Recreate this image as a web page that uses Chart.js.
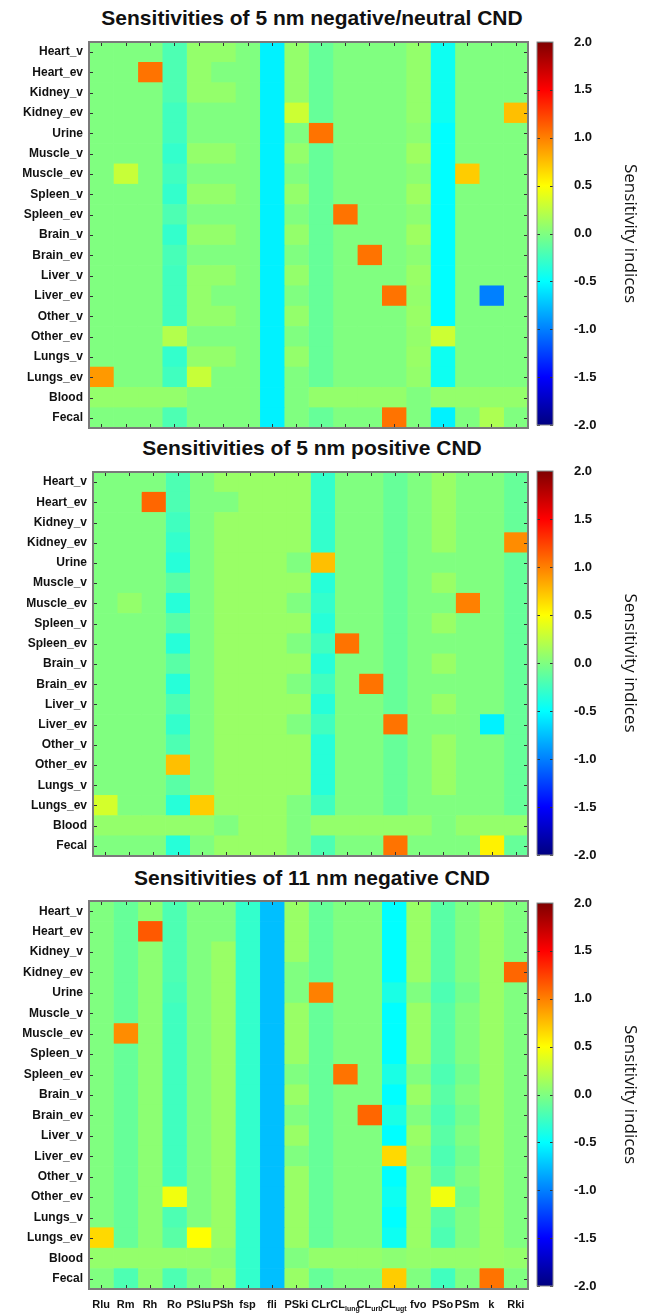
<!DOCTYPE html>
<html>
<head>
<meta charset="utf-8">
<script src="https://cdn.jsdelivr.net/npm/chart.js@4.4.0/dist/chart.umd.min.js"></script>
<style>
  body { margin: 0; background: #fff; }
  #page { position: relative; width: 646px; height: 1315px; overflow: hidden; }
  canvas { position: absolute; }
  .title { position: absolute; left: 0; width: 624px; text-align: center; line-height: 24px;
           font: bold 21px 'Liberation Sans', Arial, sans-serif; color: #111; }
</style>
</head>
<body>
<div id="page">
  <div class="title" style="top:6px">Sensitivities of 5 nm negative/neutral CND</div>
  <canvas id="heat1" width="530" height="400" style="left:0;top:30px"></canvas>
  <canvas id="bar1" width="116" height="400" style="left:530px;top:30px"></canvas>

  <div class="title" style="top:436px">Sensitivities of 5 nm positive CND</div>
  <canvas id="heat2" width="530" height="400" style="left:0;top:460px"></canvas>
  <canvas id="bar2" width="116" height="400" style="left:530px;top:460px"></canvas>

  <div class="title" style="top:866px">Sensitivities of 11 nm negative CND</div>
  <canvas id="heat3" width="530" height="425" style="left:0;top:890px"></canvas>
  <canvas id="bar3" width="116" height="425" style="left:530px;top:890px"></canvas>
</div>
<script>
const rowLabels = ['Heart_v', 'Heart_ev', 'Kidney_v', 'Kidney_ev', 'Urine', 'Muscle_v', 'Muscle_ev',
  'Spleen_v', 'Spleen_ev', 'Brain_v', 'Brain_ev', 'Liver_v', 'Liver_ev', 'Other_v', 'Other_ev',
  'Lungs_v', 'Lungs_ev', 'Blood', 'Fecal'];
const colLabels = ['Rlu', 'Rm', 'Rh', 'Ro', 'PSlu', 'PSh', 'fsp', 'fli', 'PSki', 'CLr',
  'CL_lung', 'CL_urb', 'CL_ugt', 'fvo', 'PSo', 'PSm', 'k', 'Rki'];
const cbTicks = [-2, -1.5, -1, -0.5, 0, 0.5, 1, 1.5, 2];
const cbRange = [-2, 2];

// one row per organ, one value per parameter (same order as colLabels)
const sensNegNeutral5 = [
  [0, 0, 0, -0.2, 0.08, 0.08, 0, -0.55, 0.08, -0.1, 0, 0, 0, 0.08, -0.45, 0, 0, 0],
  [0, 0, 1.05, -0.2, 0.08, 0, 0, -0.55, 0.08, -0.1, 0, 0, 0, 0.08, -0.45, 0, 0, 0],
  [0, 0, 0, -0.2, 0.08, 0.08, 0, -0.55, 0.08, -0.1, 0, 0, 0, 0.08, -0.45, 0, 0, 0],
  [0, 0, 0, -0.25, 0, 0, 0, -0.55, 0.3, -0.1, 0, 0, 0, 0.08, -0.45, 0, 0, 0.75],
  [0, 0, 0, -0.25, 0, 0, 0, -0.55, 0, 1.05, 0, 0, 0, 0.05, -0.5, 0, 0, 0],
  [0, 0, 0, -0.3, 0.08, 0.08, 0, -0.55, 0.08, -0.1, 0, 0, 0, 0.12, -0.5, 0, 0, 0],
  [0, 0.28, 0, -0.25, 0, 0, 0, -0.55, 0, -0.1, 0, 0, 0, 0.05, -0.5, 0.7, 0, 0],
  [0, 0, 0, -0.3, 0.08, 0.08, 0, -0.55, 0.08, -0.1, 0, 0, 0, 0.12, -0.5, 0, 0, 0],
  [0, 0, 0, -0.2, 0, 0, 0, -0.55, 0, -0.1, 1.05, 0, 0, 0.05, -0.5, 0, 0, 0],
  [0, 0, 0, -0.3, 0.08, 0.08, 0, -0.55, 0.08, -0.1, 0, 0, 0, 0.12, -0.5, 0, 0, 0],
  [0, 0, 0, -0.22, 0, 0, 0, -0.55, 0, -0.1, 0, 1.05, 0, 0.05, -0.5, 0, 0, 0],
  [0, 0, 0, -0.25, 0.08, 0.08, 0, -0.55, 0.08, -0.1, 0, 0, 0, 0.1, -0.5, 0, 0, 0],
  [0, 0, 0, -0.25, 0.08, 0, 0, -0.55, 0, -0.1, 0, 0, 1.05, 0.08, -0.5, 0, -1.0, 0],
  [0, 0, 0, -0.25, 0.08, 0.08, 0, -0.55, 0.08, -0.1, 0, 0, 0, 0.1, -0.5, 0, 0, 0],
  [0, 0, 0, 0.2, 0, 0, 0, -0.55, 0, -0.1, 0, 0, 0, 0.08, 0.3, 0, 0, 0],
  [0, 0, 0, -0.3, 0.08, 0.08, 0, -0.55, 0.08, -0.1, 0, 0, 0, 0.1, -0.45, 0, 0, 0],
  [0.9, 0, 0, -0.25, 0.28, 0, 0, -0.55, 0, -0.1, 0, 0, 0, 0.08, -0.45, 0, 0, 0],
  [0.08, 0.08, 0.08, 0.08, 0, 0, 0, -0.55, 0, 0.08, 0.08, 0.08, 0.08, 0, 0.08, 0.08, 0.08, 0.08],
  [0, 0, 0, -0.2, 0, 0, 0, -0.55, 0, -0.1, 0, 0, 1.05, 0, -0.55, 0, 0.18, 0]
];

const sensPositive5 = [
  [0, 0, 0, -0.2, 0, 0.1, 0.1, 0.1, 0.1, -0.3, 0, 0, -0.1, 0, 0.1, 0, 0, -0.1],
  [0, 0, 1.1, -0.2, 0, 0, 0.1, 0.1, 0.1, -0.3, 0, 0, -0.1, 0, 0.1, 0, 0, -0.1],
  [0, 0, 0, -0.25, 0, 0.1, 0.1, 0.1, 0.1, -0.3, 0, 0, -0.1, 0, 0.1, 0, 0, -0.1],
  [0, 0, 0, -0.3, 0, 0.1, 0.1, 0.1, 0.1, -0.3, 0, 0, -0.1, 0, 0.1, 0, 0, 0.95],
  [0, 0, 0, -0.35, 0, 0.1, 0.1, 0.1, 0, 0.75, 0, 0, -0.1, 0, 0, 0, 0, -0.1],
  [0, 0, 0, -0.15, 0, 0.1, 0.1, 0.1, 0.1, -0.35, 0, 0, -0.1, 0, 0.1, 0, 0, -0.1],
  [0, 0.08, 0, -0.35, 0, 0.1, 0.1, 0.1, 0, -0.3, 0, 0, -0.1, 0, 0, 1.0, 0, -0.1],
  [0, 0, 0, -0.15, 0, 0.1, 0.1, 0.1, 0.1, -0.35, 0, 0, -0.1, 0, 0.1, 0, 0, -0.1],
  [0, 0, 0, -0.35, 0, 0.1, 0.1, 0.1, 0, -0.25, 1.05, 0, -0.1, 0, 0, 0, 0, -0.1],
  [0, 0, 0, -0.15, 0, 0.1, 0.1, 0.1, 0.1, -0.35, 0, 0, -0.1, 0, 0.1, 0, 0, -0.1],
  [0, 0, 0, -0.35, 0, 0.1, 0.1, 0.1, 0, -0.25, 0, 1.05, -0.1, 0, 0, 0, 0, -0.1],
  [0, 0, 0, -0.2, 0, 0.1, 0.1, 0.1, 0.1, -0.35, 0, 0, -0.1, 0, 0.1, 0, 0, -0.1],
  [0, 0, 0, -0.3, 0, 0.1, 0.1, 0.1, 0, -0.25, 0, 0, 1.05, 0, 0, 0, -0.55, -0.1],
  [0, 0, 0, -0.2, 0, 0.1, 0.1, 0.1, 0.1, -0.35, 0, 0, -0.1, 0, 0.1, 0, 0, -0.1],
  [0, 0, 0, 0.75, 0, 0.1, 0.1, 0.1, 0.1, -0.35, 0, 0, -0.1, 0, 0.1, 0, 0, -0.1],
  [0, 0, 0, -0.15, 0, 0.1, 0.1, 0.1, 0.1, -0.35, 0, 0, -0.1, 0, 0.1, 0, 0, -0.1],
  [0.33, 0, 0, -0.35, 0.7, 0.1, 0.1, 0.1, 0, -0.25, 0, 0, -0.1, 0, 0, 0, 0, -0.1],
  [0.08, 0.08, 0.08, 0.08, 0.08, 0, 0.1, 0.1, 0, 0.08, 0.08, 0.08, 0.08, 0.08, 0, 0.08, 0.08, 0.08],
  [0, 0, 0, -0.35, 0, 0.1, 0.1, 0.1, 0, -0.2, 0, 0, 1.05, 0, 0, 0, 0.55, -0.1]
];

const sensNegative11 = [
  [0, -0.1, 0.05, -0.2, 0, 0, -0.3, -0.75, 0.1, -0.1, 0, 0, -0.5, 0.1, -0.15, 0, 0.1, 0],
  [0, -0.1, 1.15, -0.2, 0, 0, -0.3, -0.75, 0.1, -0.1, 0, 0, -0.5, 0.1, -0.15, 0, 0.1, 0],
  [0, -0.1, 0.05, -0.2, 0, 0.1, -0.3, -0.75, 0.1, -0.1, 0, 0, -0.5, 0.1, -0.15, 0, 0.1, 0],
  [0, -0.1, 0.05, -0.2, 0, 0.1, -0.3, -0.75, 0, -0.1, 0, 0, -0.5, 0.1, -0.15, 0, 0.1, 1.1],
  [0, -0.1, 0.05, -0.22, 0, 0.1, -0.3, -0.75, 0, 1.0, 0, 0, -0.4, 0, -0.2, -0.05, 0.1, 0],
  [0, -0.1, 0.05, -0.25, 0, 0.1, -0.3, -0.75, 0.1, -0.1, 0, 0, -0.5, 0.1, -0.15, 0, 0.1, 0],
  [0, 0.95, 0.05, -0.25, 0, 0.1, -0.3, -0.75, 0.1, -0.1, 0, 0, -0.5, 0.1, -0.15, 0, 0.1, 0],
  [0, -0.1, 0.05, -0.25, 0, 0.1, -0.3, -0.75, 0.1, -0.1, 0, 0, -0.5, 0.1, -0.15, 0, 0.1, 0],
  [0, -0.1, 0.05, -0.25, 0, 0.1, -0.3, -0.75, 0, -0.1, 1.05, 0, -0.4, 0, -0.2, -0.05, 0.1, 0],
  [0, -0.1, 0.05, -0.25, 0, 0.1, -0.3, -0.75, 0.1, -0.1, 0, 0, -0.5, 0.1, -0.15, 0, 0.1, 0],
  [0, -0.1, 0.05, -0.25, 0, 0.1, -0.3, -0.75, 0, -0.1, 0, 1.1, -0.4, 0, -0.2, -0.05, 0.1, 0],
  [0, -0.1, 0.05, -0.25, 0, 0.1, -0.3, -0.75, 0.1, -0.1, 0, 0, -0.5, 0.1, -0.15, 0, 0.1, 0],
  [0, -0.1, 0.05, -0.25, 0, 0.1, -0.3, -0.75, 0, -0.1, 0, 0, 0.65, 0.05, -0.2, -0.05, 0.1, 0],
  [0, -0.1, 0.05, -0.25, 0, 0.1, -0.3, -0.75, 0.1, -0.1, 0, 0, -0.5, 0.1, -0.15, 0, 0.1, 0],
  [0, -0.1, 0.05, 0.45, 0, 0.1, -0.3, -0.75, 0.1, -0.1, 0, 0, -0.45, 0.1, 0.45, -0.05, 0.1, 0],
  [0, -0.1, 0.05, -0.2, 0, 0.1, -0.3, -0.75, 0.1, -0.1, 0, 0, -0.5, 0.1, -0.15, 0, 0.1, 0],
  [0.65, -0.1, 0.05, -0.15, 0.5, 0.1, -0.3, -0.75, 0.1, -0.1, 0, 0, -0.45, 0.1, -0.2, 0, 0.1, 0],
  [0.08, 0.08, 0.08, 0.08, 0.08, 0.05, -0.3, -0.75, 0, 0.08, 0.08, 0.08, 0.05, 0.08, 0.08, 0.08, 0.1, 0.08],
  [0, -0.2, 0.05, -0.2, 0, 0.1, -0.3, -0.75, 0.1, -0.1, 0, 0, 0.7, 0, -0.25, 0, 1.05, 0]
];

const labelFont = "'Liberation Sans', Arial, sans-serif";

// matlab style jet colormap over -2..2
function jet(v) {
  const t = (v - cbRange[0]) / (cbRange[1] - cbRange[0]);
  const c = x => Math.round(255 * Math.min(1, Math.max(0, x)));
  return 'rgb(' + c(1.5 - Math.abs(4 * t - 3)) + ',' + c(1.5 - Math.abs(4 * t - 2)) + ',' + c(1.5 - Math.abs(4 * t - 1)) + ')';
}

// grey box + small inward tick marks
const frame = {
  id: 'frame',
  afterDatasetsDraw(chart, args, o) {
    const {ctx, chartArea: a, scales} = chart;
    ctx.save();
    ctx.strokeStyle = '#333';
    ctx.lineWidth = 1;
    ctx.beginPath();
    if (o.kind === 'heat') {
      colLabels.forEach((c, j) => {
        const x = Math.round(scales.x.getPixelForValue(j + 0.5)) + 0.5;
        ctx.moveTo(x, a.top); ctx.lineTo(x, a.top + o.len);
        ctx.moveTo(x, a.bottom); ctx.lineTo(x, a.bottom - o.len);
      });
      rowLabels.forEach((r, i) => {
        const y = Math.round(scales.y.getPixelForValue(i)) + 0.5;
        ctx.moveTo(a.left, y); ctx.lineTo(a.left + o.len, y);
        ctx.moveTo(a.right, y); ctx.lineTo(a.right - o.len, y);
      });
    } else {
      cbTicks.forEach(v => {
        const y = Math.round(scales.y.getPixelForValue(v)) + 0.5;
        ctx.moveTo(a.left, y); ctx.lineTo(a.left + o.len, y);
        ctx.moveTo(a.right, y); ctx.lineTo(a.right - o.len, y);
      });
    }
    ctx.stroke();
    ctx.strokeStyle = o.border;
    ctx.lineWidth = o.borderWidth;
    ctx.strokeRect(a.left, a.top, a.right - a.left, a.bottom - a.top);
    ctx.restore();
  }
};

// parameter names under the last panel, with subscripts
const colNames = {
  id: 'colNames',
  afterDraw(chart, args, o) {
    if (!o.show) return;
    const {ctx, chartArea: a, scales: {x}} = chart;
    ctx.save();
    ctx.fillStyle = '#111';
    colLabels.forEach((lab, j) => {
      const [main, sub] = lab.split('_');
      ctx.font = 'bold 11px ' + labelFont;
      const w1 = ctx.measureText(main).width;
      ctx.font = 'bold 7px ' + labelFont;
      const w2 = sub ? ctx.measureText(sub).width : 0;
      const left = x.getPixelForValue(j + 0.5) - (w1 + w2) / 2;
      const base = a.bottom + 19;
      ctx.font = 'bold 11px ' + labelFont;
      ctx.fillText(main, left, base);
      if (sub) {
        ctx.font = 'bold 7px ' + labelFont;
        ctx.fillText(sub, left + w1, base + 3);
      }
    });
    ctx.restore();
  }
};

function heatmap(id, values, padTop, padBottom, yWidth, showNames) {
  new Chart(document.getElementById(id), {
    type: 'bar',
    data: {
      labels: rowLabels,
      datasets: colLabels.map((name, j) => ({
        label: name,
        data: rowLabels.map(() => 1),
        backgroundColor: values.map(row => jet(row[j])),
        borderWidth: 0,
        barPercentage: 1,
        categoryPercentage: 1
      }))
    },
    options: {
      indexAxis: 'y',
      responsive: false,
      animation: false,
      layout: { padding: { top: padTop, bottom: padBottom, left: 0, right: 2 } },
      plugins: {
        legend: { display: false },
        tooltip: { enabled: false },
        frame: { kind: 'heat', len: 4, border: '#7a7a7a', borderWidth: 2 },
        colNames: { show: showNames }
      },
      scales: {
        x: { stacked: true, min: 0, max: colLabels.length, display: false },
        y: {
          stacked: true,
          grid: { display: false, drawTicks: false },
          border: { display: false },
          ticks: { color: '#111', padding: 6, autoSkip: false, font: { family: labelFont, size: 12, weight: 'bold' } },
          afterFit(s) { s.width = yWidth; s.paddingTop = 0; s.paddingBottom = 0; }
        }
      }
    },
    plugins: [frame, colNames]
  });
}

function colorbar(id, padTop, padBottom) {
  new Chart(document.getElementById(id), {
    type: 'bar',
    data: {
      labels: ['scale'],
      datasets: [{
        data: [cbRange],
        backgroundColor(c) {
          const y = c.chart.scales.y;
          if (!c.chart.chartArea || !y) return jet(0);
          const g = c.chart.ctx.createLinearGradient(0, y.getPixelForValue(cbRange[0]), 0, y.getPixelForValue(cbRange[1]));
          for (let k = 0; k <= 64; k++) g.addColorStop(k / 64, jet(cbRange[0] + (cbRange[1] - cbRange[0]) * k / 64));
          return g;
        },
        borderWidth: 0,
        barPercentage: 1,
        categoryPercentage: 1
      }]
    },
    options: {
      responsive: false,
      animation: false,
      layout: { padding: { top: padTop, bottom: padBottom, left: 7, right: 0 } },
      plugins: {
        legend: { display: false },
        tooltip: { enabled: false },
        frame: { kind: 'bar', len: 3, border: '#8a8a8a', borderWidth: 1 }
      },
      scales: {
        x: { display: false },
        y: {
          position: 'right',
          min: cbRange[0],
          max: cbRange[1],
          grid: { display: false, drawTicks: false },
          border: { display: false },
          afterBuildTicks(s) { s.ticks = cbTicks.map(v => ({ value: v })); },
          ticks: {
            padding: 21,
            color: '#111',
            font: { family: labelFont, size: 13, weight: 'bold' },
            callback: v => v.toFixed(1)
          },
          title: {
            display: true,
            text: 'Sensitivity indices',
            color: '#111',
            padding: { top: 6, bottom: 0 },
            font: { family: "'Open Sans', sans-serif", size: 17 }
          },
          afterFit(s) { s.width = 93; s.paddingTop = 0; s.paddingBottom = 0; }
        }
      }
    },
    plugins: [frame]
  });
}

heatmap('heat1', sensNegNeutral5, 12, 2, 89, false);
colorbar('bar1', 12, 5);
heatmap('heat2', sensPositive5, 12, 4, 93, false);
colorbar('bar2', 11, 5);
heatmap('heat3', sensNegative11, 11, 26, 89, true);
colorbar('bar3', 13, 29);
</script>
</body>
</html>
